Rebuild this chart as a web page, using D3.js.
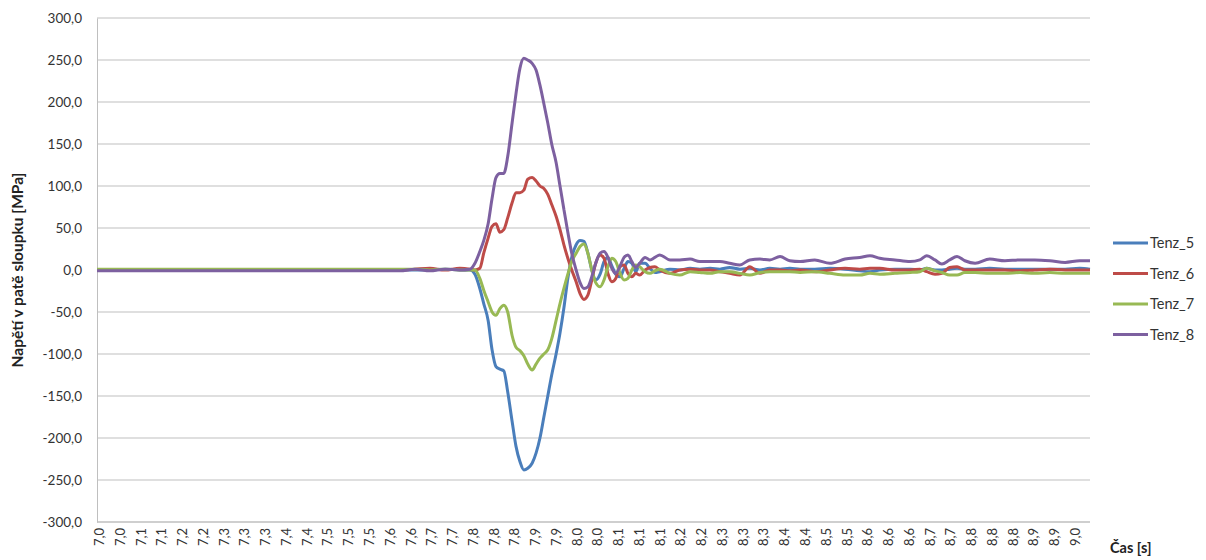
<!DOCTYPE html>
<html>
<head>
<meta charset="utf-8">
<script src="https://cdn.jsdelivr.net/npm/d3@7"></script>
<style>
  html, body { margin: 0; padding: 0; background: #fff; }
  svg { display: block; }
</style>
</head>
<body>
<svg id="chart" width="1206" height="560"></svg>
<script>
// time [s]
const timeS = [7.000, 7.620, 7.650, 7.681, 7.712, 7.742, 7.763, 7.773, 7.783, 7.791, 7.800, 7.808, 7.816, 7.824, 7.832,
  7.840, 7.849, 7.857, 7.865, 7.873, 7.881, 7.890, 7.898, 7.906, 7.914, 7.922, 7.930, 7.939, 7.947, 7.955, 7.963, 7.971,
  7.980, 7.988, 7.996, 8.004, 8.012, 8.020, 8.029, 8.037, 8.045, 8.053, 8.061, 8.070, 8.078, 8.086, 8.094, 8.102, 8.110,
  8.121, 8.131, 8.141, 8.151, 8.172, 8.192, 8.213, 8.233, 8.254, 8.274, 8.294, 8.315, 8.335, 8.356, 8.376, 8.397, 8.417,
  8.438, 8.468, 8.499, 8.530, 8.560, 8.581, 8.601, 8.632, 8.663, 8.683, 8.697, 8.714, 8.728, 8.744, 8.759, 8.775, 8.796,
  8.826, 8.857, 8.888, 8.918, 8.949, 8.980, 9.010, 9.031];

const tenz5 = [0, 0, 0, 0, 1, 0, 0, -5, -22, -40, -60, -95, -115, -118, -120,
  -145, -180, -210, -228, -238, -236, -230, -218, -200, -175, -150, -125, -100, -75, -45, -10, 15,
  30, 35, 34, 20, 0, -12, -5, 10, 15, 5, -5, -8, 2, 10, 8, -2, 8,
  8, 2, -3, -2, 1, 0, 2, 1, 2, 1, 3, 1, 2, 0, 2, 1, 2,
  1, 1, 2, 1, -1, -2, 0, 1, 1, 0, 2, 0, 0, 1, 2, 1, 1,
  2, 1, 1, 1, 1, 1, 2, 1];

const tenz6 = [0, 0, 1, 2, 0, 2, 1, 0, 2, 20, 38, 52, 55, 45, 48,
  62, 80, 92, 92, 95, 108, 110, 106, 100, 97, 90, 78, 64, 48, 30, 14, 0,
  -14, -28, -35, -30, -12, 8, 18, 14, -4, -14, -10, 4, 6, -4, -8, -4, -6,
  0, 3, 4, 0, -4, 0, 1, 0, 0, -2, -4, -6, 4, -4, 0, 0, -1,
  0, -2, 0, 2, 1, 2, 2, 0, 0, 1, -2, -5, -4, 3, 4, 0, 0,
  0, 0, -1, 0, 1, 0, 0, 0];

const tenz7 = [1, 1, 1, 0, 1, 0, 0, 0, -10, -24, -38, -50, -54, -46, -42,
  -50, -78, -92, -96, -102, -112, -119, -112, -105, -100, -95, -82, -60, -40, -22, -5, 10,
  20, 28, 31, 20, 0, -15, -20, -12, 4, 14, 10, -4, -12, -10, 0, 6, 4,
  -2, -4, -1, 1, -4, -6, -2, -3, -4, -2, -2, -4, -6, -3, -2, -2, -2,
  -3, -2, -4, -6, -6, -4, -5, -4, -3, -2, 2, -1, -3, -6, -6, -3, -3,
  -4, -4, -3, -4, -3, -4, -4, -4];

const tenz8 = [-1, -1, 1, -1, 1, 0, 1, 8, 22, 35, 55, 85, 110, 115, 115,
  135, 175, 210, 240, 252, 250, 246, 238, 220, 198, 175, 150, 128, 100, 72, 45, 20,
  0, -15, -22, -20, -8, 8, 20, 22, 15, 2, -4, 5, 15, 18, 10, 3, 8,
  15, 12, 15, 18, 12, 12, 13, 10, 10, 10, 8, 6, 12, 13, 12, 16, 11,
  10, 12, 8, 13, 15, 17, 14, 12, 10, 12, 17, 12, 7, 12, 16, 11, 8,
  13, 11, 12, 12, 11, 9, 11, 11];

const seriesNames = ["Tenz_5", "Tenz_6", "Tenz_7", "Tenz_8"];
const seriesColors = ["#4a7ebb", "#be4b48", "#98b954", "#7d60a0"];

const yTicks = [-300, -250, -200, -150, -100, -50, 0, 50, 100, 150, 200, 250, 300];
const xTickLabels = ["7,0", "7,0", "7,1", "7,1", "7,2", "7,2", "7,3", "7,3", "7,3", "7,4", "7,4", "7,5", "7,5", "7,5",
  "7,6", "7,6", "7,7", "7,7", "7,8", "7,8", "7,8", "7,9", "7,9", "8,0", "8,0", "8,1", "8,1", "8,1", "8,2", "8,2",
  "8,3", "8,3", "8,3", "8,4", "8,4", "8,5", "8,5", "8,6", "8,6", "8,6", "8,7", "8,7", "8,8", "8,8", "8,8", "8,9",
  "8,9", "9,0"];

const W = 1206, H = 560;
const m = { top: 18, right: 116, bottom: 38, left: 97 };
const iW = W - m.left - m.right;
const iH = H - m.top - m.bottom;
const FONT = "Lato, 'Open Sans', sans-serif";

const svg = d3.select("#chart");
svg.append("rect").attr("width", W).attr("height", H).attr("fill", "#fff");

const g = svg.append("g").attr("transform", `translate(${m.left},${m.top})`);

const x = d3.scaleLinear().domain([7.0, 9.031]).range([0, iW]);
const y = d3.scaleLinear().domain([-300, 300]).range([iH, 0]);
const xCat = d3.scalePoint().domain(d3.range(xTickLabels.length)).range([x(7.0) + 2, x(9.0)]);

// grid
g.append("g").selectAll("line").data(yTicks).join("line")
  .attr("x1", 0).attr("x2", iW)
  .attr("y1", d => y(d)).attr("y2", d => y(d))
  .attr("stroke", "#bfbfbf").attr("stroke-width", 1);

// Y axis (hyphen minus, decimal comma)
const fmtY = d => (d < 0 ? "-" : "") + Math.abs(d).toFixed(1).replace(".", ",");
g.append("g")
  .call(d3.axisLeft(y).tickValues(yTicks).tickSize(0).tickPadding(15).tickFormat(fmtY))
  .call(ax => {
    ax.select(".domain").attr("stroke", "#bfbfbf");
    ax.selectAll(".tick text").style("fill", "#333").style("font-size", "13.5px").style("font-family", FONT);
  });

// X axis (category labels)
g.append("g")
  .attr("transform", `translate(0,${iH})`)
  .call(d3.axisBottom(xCat).tickSize(0).tickFormat(i => xTickLabels[i]))
  .call(ax => {
    ax.select(".domain").remove();
    ax.selectAll(".tick text")
      .attr("transform", "rotate(-90)")
      .attr("text-anchor", "end").attr("x", -6).attr("y", 0).attr("dy", "0.35em")
      .style("fill", "#333").style("font-size", "13px").style("font-family", FONT);
  });
g.append("line").attr("x1", 0).attr("x2", iW).attr("y1", iH).attr("y2", iH).attr("stroke", "#bfbfbf");

// Axis titles
svg.append("text")
  .attr("transform", `translate(23,${m.top + iH / 2}) rotate(-90)`)
  .attr("text-anchor", "middle")
  .style("fill", "#222").style("font-size", "15.5px").style("font-weight", "700").style("font-family", FONT)
  .text("Napětí v patě sloupku [MPa]");
svg.append("text")
  .attr("x", 1110).attr("y", 553)
  .style("fill", "#222").style("font-size", "14.5px").style("font-weight", "700").style("font-family", FONT)
  .text("Čas [s]");

// Lines
const allSeries = [tenz5, tenz6, tenz7, tenz8];
const line = d3.line().x(d => x(d.t)).y(d => y(d.v)).curve(d3.curveMonotoneX);
allSeries.forEach((vals, k) => {
  const pts = timeS.map((t, i) => ({ t, v: vals[i] }));
  g.append("path").datum(pts).attr("fill", "none")
    .attr("stroke", seriesColors[k]).attr("stroke-width", 3)
    .attr("stroke-linejoin", "round").attr("d", line);
});

// Legend
const legend = svg.append("g").attr("transform", "translate(1113,243)");
seriesNames.forEach((s, i) => {
  const gE = legend.append("g").attr("transform", `translate(0, ${i * 30.5})`);
  gE.append("line").attr("x1", 0).attr("x2", 35).attr("stroke", seriesColors[i]).attr("stroke-width", 3);
  gE.append("text").attr("x", 37).attr("y", 5)
    .style("fill", "#333").style("font-size", "14.5px").style("font-family", FONT).text(s);
});
</script>
</body>
</html>
